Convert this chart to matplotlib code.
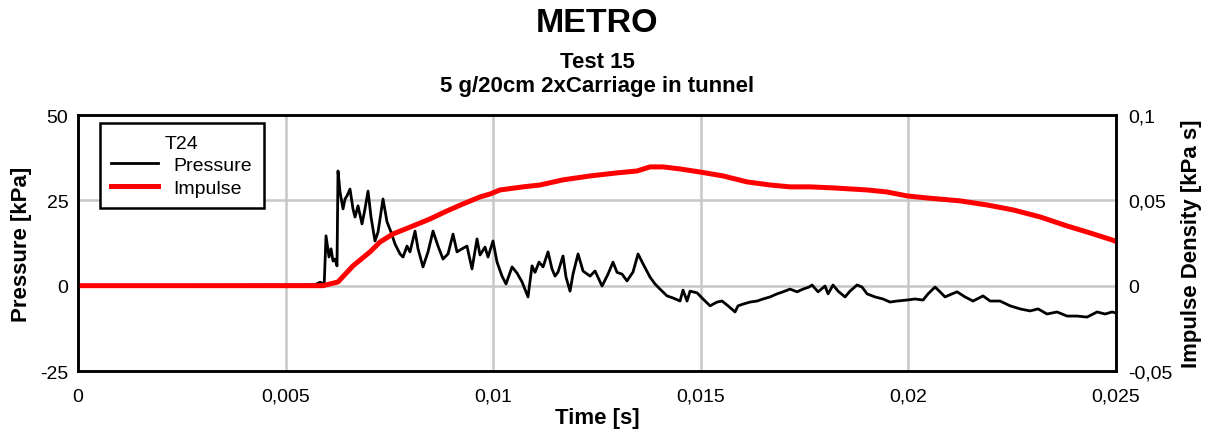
import numpy as np
import matplotlib
matplotlib.use("Agg")
import matplotlib.pyplot as plt
from matplotlib.ticker import FuncFormatter

plt.rcParams['font.family'] = ['Liberation Sans', 'DejaVu Sans']
plt.rcParams['axes.unicode_minus'] = False

# pressure trace T24, time in ms, pressure in kPa
p_time = [0.0, 2.9, 5.35, 5.71, 5.83, 5.93, 5.973, 6.045, 6.094, 6.142, 6.19, 6.238,
          6.262, 6.31, 6.383, 6.431, 6.479, 6.551, 6.623, 6.672, 6.744, 6.84, 6.912,
          6.985, 7.057, 7.153, 7.226, 7.346, 7.442, 7.539, 7.635, 7.755, 7.828, 7.924,
          7.996, 8.117, 8.189, 8.309, 8.43, 8.55, 8.671, 8.791, 8.911, 9.032, 9.128,
          9.248, 9.368, 9.489, 9.61, 9.682, 9.803, 9.875, 9.995, 10.092, 10.212,
          10.308, 10.453, 10.573, 10.694, 10.838, 10.935, 11.007, 11.103, 11.2, 11.32,
          11.416, 11.489, 11.561, 11.681, 11.753, 11.85, 11.922, 12.043, 12.163,
          12.332, 12.452, 12.621, 12.765, 12.885, 12.982, 13.102, 13.223, 13.367,
          13.488, 13.608, 13.777, 13.897, 14.017, 14.186, 14.331, 14.499, 14.571,
          14.668, 14.74, 14.909, 15.053, 15.222, 15.39, 15.511, 15.655, 15.824,
          15.896, 16.017, 16.185, 16.354, 16.498, 16.666, 16.835, 16.98, 17.148,
          17.317, 17.462, 17.606, 17.678, 17.823, 17.991, 18.064, 18.184, 18.305,
          18.473, 18.593, 18.762, 18.883, 19.003, 19.196, 19.388, 19.557, 19.726,
          19.966, 20.159, 20.352, 20.472, 20.641, 20.761, 20.882, 21.05, 21.171,
          21.363, 21.556, 21.797, 21.966, 22.206, 22.447, 22.688, 22.929, 23.122,
          23.338, 23.579, 23.82, 24.061, 24.302, 24.543, 24.735, 24.904, 25.0]
pressure = [0.0, 0.1, 0.2, 0.3, 1.0, 0.5, 14.6, 8.4, 10.8, 7.2, 7.8, 5.8,
            33.6, 27.5, 22.5, 25.4, 26.3, 28.3, 22.5, 20.1, 23.4, 18.1, 22.5,
            27.7, 20.1, 13.1, 15.7, 25.4, 18.7, 15.7, 12.2, 9.3, 8.4, 11.6,
            9.9, 16.0, 10.8, 5.5, 9.9, 16.0, 11.6, 7.8, 9.3, 15.1, 9.9,
            10.8, 11.6, 4.9, 13.7, 9.0, 11.3, 8.4, 13.1, 6.9, 2.8,
            0.5, 5.5, 3.7, 1.1, -3.3, 5.8, 3.9, 6.9, 5.5, 9.9,
            4.9, 2.8, 4.0, 8.7, 2.5, -1.6, 3.4, 9.3, 4.3,
            2.8, 4.3, -0.1, 3.4, 6.9, 3.9, 3.4, 1.4, 4.0,
            9.3, 6.4, 2.5, 0.5, -1.0, -3.0, -3.6, -4.5, -1.3,
            -4.5, -1.6, -2.1, -3.9, -5.9, -4.8, -4.5, -5.9, -7.7,
            -5.9, -5.4, -4.8, -4.5, -3.9, -3.3, -2.4, -1.8, -1.0,
            -1.8, -1.0, -0.4, 0.2, -1.8, -0.1, -2.4, 0.2, -1.6,
            -3.3, -1.6, 0.2, -0.4, -2.4, -3.3, -3.9, -4.8, -4.5,
            -4.2, -3.9, -4.2, -2.4, -0.4, -1.8, -3.3, -2.4, -1.8,
            -3.3, -4.5, -3.0, -4.5, -4.5, -5.9, -6.8, -7.4, -6.8,
            -8.3, -7.7, -8.9, -8.9, -9.2, -7.7, -8.3, -7.7, -8.0]

# impulse density, time in ms, impulse in kPa s
i_time = [0.0, 5.901, 6.262, 6.623, 7.033, 7.274, 7.587, 8.068, 8.478, 8.887,
          9.273, 9.682, 9.923, 10.164, 10.718, 11.127, 11.681, 12.332, 12.982,
          13.463, 13.777, 14.09, 14.499, 14.981, 15.535, 16.113, 16.666, 17.148,
          17.63, 18.184, 19.003, 19.484, 19.966, 20.448, 21.243, 21.893, 22.519,
          23.17, 23.82, 24.374, 24.904, 25.0]
impulse = [0.0, 0.0, 0.0022, 0.0116, 0.0198, 0.0256, 0.0303, 0.035, 0.0391, 0.0438,
           0.0479, 0.052, 0.0537, 0.0561, 0.0579, 0.059, 0.062, 0.0643, 0.0661,
           0.0672, 0.0696, 0.0696, 0.0684, 0.0666, 0.0643, 0.0608, 0.059, 0.0579,
           0.0579, 0.0573, 0.0561, 0.0549, 0.0526, 0.0514, 0.0497, 0.0473, 0.0444,
           0.0403, 0.035, 0.0309, 0.0268, 0.0259]

x_ticks = [0, 0.005, 0.01, 0.015, 0.02, 0.025]
p_ticks = [-25, 0, 25, 50]
i_ticks = [-0.05, 0, 0.05, 0.1]


def comma(v, pos=None):
    s = ('%.3f' % v).rstrip('0').rstrip('.')
    if s == '-0':
        s = '0'
    return s.replace('.', ',')


fig = plt.figure(figsize=(12.11, 4.35), dpi=100)
ax = fig.add_axes([0.0644, 0.1448, 0.8572, 0.5885])
ax2 = ax.twinx()

t_p = np.array(p_time) / 1000.0
t_i = np.array(i_time) / 1000.0
l1, = ax.plot(t_p, pressure, color='black', lw=2.0, label='Pressure')
l2, = ax2.plot(t_i, impulse, color='#ff0000', lw=3.6, label='Impulse')

ax.set_xlim(0, 0.025)
ax.set_ylim(-25, 50)
ax2.set_ylim(-0.05, 0.1)
ax.set_xticks(x_ticks)
ax.set_yticks(p_ticks)
ax2.set_yticks(i_ticks)
ax.xaxis.set_major_formatter(FuncFormatter(comma))
ax2.yaxis.set_major_formatter(FuncFormatter(comma))

ax.grid(True, color='#c8c8c8', lw=1.8)
ax.set_axisbelow(True)
for a in (ax, ax2):
    a.tick_params(length=0, labelsize=14, pad=9)
    for sp in a.spines.values():
        sp.set_linewidth(1.8)
        sp.set_color('black')
ax.tick_params(axis='x', pad=12)
ax.tick_params(axis='y', pad=7)

ax.set_xlabel('Time [s]', fontsize=16, fontweight='bold', labelpad=2)
ax.set_ylabel('Pressure [kPa]', fontsize=16, fontweight='bold', labelpad=6)
ax2.set_ylabel('Impulse Density [kPa s]', fontsize=16, fontweight='bold', labelpad=6)

fig.text(0.4930, 0.945, 'METRO', ha='center', va='center', fontsize=24.5, fontweight='bold')
fig.text(0.4930, 0.857, 'Test 15', ha='center', va='center', fontsize=16, fontweight='bold')
fig.text(0.4930, 0.802, '5 g/20cm 2xCarriage in tunnel', ha='center', va='center',
         fontsize=16, fontweight='bold')

leg = ax2.legend(handles=[l1, l2], title='T24', loc='upper left',
                 bbox_to_anchor=(0.021, 0.969), borderaxespad=0, fontsize=14,
                 title_fontsize=14, fancybox=False, framealpha=1, edgecolor='black',
                 handlelength=2.4, handletextpad=0.8, borderpad=0.6, labelspacing=0.25)
leg.get_frame().set_linewidth(1.8)

fig.savefig('out.png', dpi=100)
